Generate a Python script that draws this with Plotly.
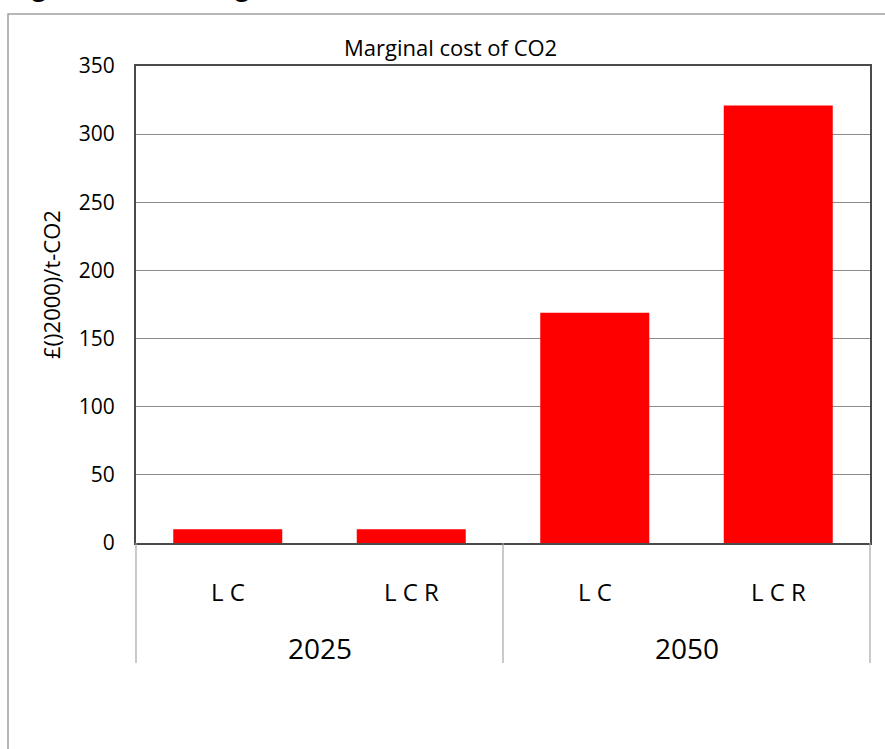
import plotly.graph_objects as go

# Marginal abatement cost of CO2 by scenario and year
years = ["2025", "2025", "2050", "2050"]
scenarios = ["LC", "LCR", "LC", "LCR"]
costs = [10, 10, 169, 321]

y_ticks = [0, 50, 100, 150, 200, 250, 300, 350]

FONT = "Open Sans"
W, H = 885, 749
L, R, T, B = 136, 15, 66, 206
pw, ph = W - L - R, H - T - B


def px_x(v):
    return (v - L) / pw


def px_y(v):
    return (H - B - v) / ph


def spaced(s):
    return " ".join(s)


idx = list(range(len(costs)))

fig = go.Figure(
    go.Bar(
        x=idx,
        y=costs,
        marker=dict(color="#ff0000", line=dict(width=0)),
        width=0.594,
        hoverinfo="y",
    )
)

annotations = []
# inner category labels
for i, s in zip(idx, scenarios):
    annotations.append(dict(
        x=i, xref="x", y=px_y(591), yref="paper", text=spaced(s),
        showarrow=False, xanchor="center", yanchor="middle",
        font=dict(family=FONT, size=24, color="#000"),
    ))
# outer group labels
groups = []
for y_ in years:
    if y_ not in groups:
        groups.append(y_)
for g in groups:
    members = [i for i, y_ in zip(idx, years) if y_ == g]
    annotations.append(dict(
        x=sum(members) / len(members), xref="x", y=px_y(648), yref="paper",
        text=g, showarrow=False, xanchor="center", yanchor="middle",
        font=dict(family=FONT, size=28, color="#000"),
    ))

# chart title and y-axis title
annotations.append(dict(
    x=px_x(450), xref="paper", y=px_y(47), yref="paper",
    text="Marginal cost of CO2", showarrow=False, xanchor="center", yanchor="middle",
    font=dict(family=FONT, size=22, color="#000"),
))
annotations.append(dict(
    x=px_x(51), xref="paper", y=px_y(285), yref="paper",
    text="£()2000)/t-CO2", showarrow=False, textangle=-90,
    xanchor="center", yanchor="middle",
    font=dict(family=FONT, size=22, color="#000"),
))
# document heading, running off the top edge of the page
annotations.append(dict(
    x=px_x(1), xref="paper", y=px_y(-15), yref="paper",
    text="Figure 10.2: Marginal cost of CO₂", showarrow=False,
    xanchor="left", yanchor="middle",
    font=dict(family="Liberation Sans", size=30, color="#000", weight="bold"),
))

shapes = []
# outer chart border
shapes.append(dict(type="rect", xref="paper", yref="paper",
                   x0=px_x(8), x1=px_x(900), y0=px_y(780), y1=px_y(14),
                   line=dict(color="#a0a0a0", width=1.5), layer="below"))
# category dividers under the axis
n = len(costs)
bounds = [0]
for i in range(1, n):
    if years[i] != years[i - 1]:
        bounds.append(i)
bounds.append(n)
for b in bounds:
    xp = b / n
    shapes.append(dict(type="line", xref="paper", yref="paper",
                       x0=xp, x1=xp, y0=0, y1=px_y(663),
                       line=dict(color="#a6a6a6", width=1.2)))

fig.update_layout(
    width=W, height=H,
    margin=dict(l=L, r=R, t=T, b=B, pad=0),
    paper_bgcolor="white", plot_bgcolor="white",
    showlegend=False,
    annotations=annotations,
    shapes=shapes,
    xaxis=dict(
        range=[-0.5, n - 0.5], showticklabels=False, showgrid=False,
        zeroline=False, showline=True, mirror=True, linecolor="#4a4a4a",
        linewidth=2, ticks="", fixedrange=True,
    ),
    yaxis=dict(
        range=[0, 350], tickvals=y_ticks, showgrid=True, gridcolor="#8c8c8c",
        gridwidth=1, zeroline=False, showline=True, mirror=True,
        linecolor="#4a4a4a", linewidth=2, ticks="", ticklabelstandoff=15,
        tickfont=dict(family=FONT, size=21, color="#000"), fixedrange=True,
    ),
)

fig.write_html("out.html")
